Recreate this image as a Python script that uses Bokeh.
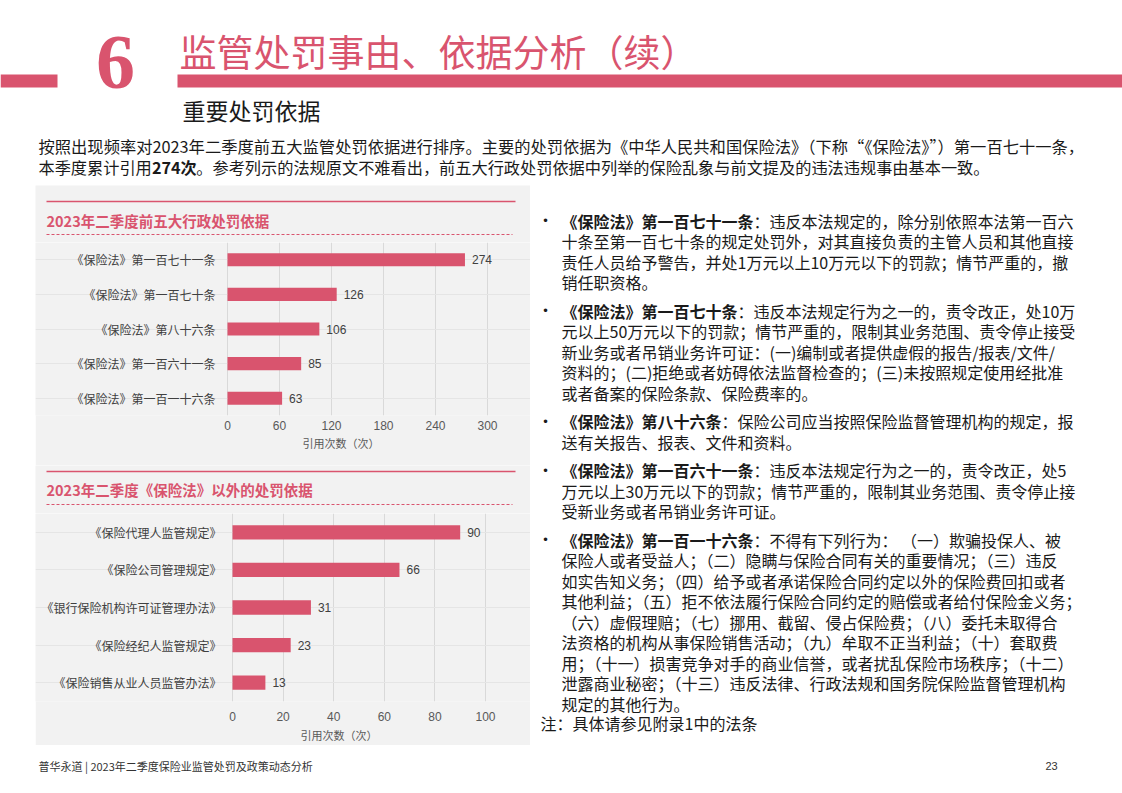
from bokeh.plotting import figure
from bokeh.models import Range1d, FactorRange, FixedTicker, ColumnDataSource, Spacer, Title
from bokeh.layouts import column, row
from bokeh.embed import file_html
from bokeh.resources import INLINE
from bokeh.core.properties import value

# ---------------- data ----------------
cats1 = ["《保险法》第一百七十一条", "《保险法》第一百七十条", "《保险法》第八十六条",
         "《保险法》第一百六十一条", "《保险法》第一百一十六条"]
vals1 = [274, 126, 106, 85, 63]
ticks1 = [0, 60, 120, 180, 240, 300]

cats2 = ["《保险代理人监管规定》", "《保险公司管理规定》", "《银行保险机构许可证管理办法》",
         "《保险经纪人监管规定》", "《保险销售从业人员监管办法》"]
vals2 = [90, 66, 31, 23, 13]
ticks2 = [0, 20, 40, 60, 80, 100]

title1 = "2023年二季度前五大行政处罚依据"
title2 = "2023年二季度《保险法》以外的处罚依据"
axis_title = "引用次数（次）"

page_number = "6"
page_title = "监管处罚事由、依据分析（续）"
sub_title = "重要处罚依据"
intro1 = "按照出现频率对2023年二季度前五大监管处罚依据进行排序。主要的处罚依据为《中华人民共和国保险法》（下称“《保险法》”）第一百七十一条，"
intro2 = [("本季度累计引用", False), ("274次", True),
          ("。参考列示的法规原文不难看出，前五大行政处罚依据中列举的保险乱象与前文提及的违法违规事由基本一致。", False)]

bullets = [
    ("《保险法》第一百七十一条", ["：违反本法规定的，除分别依照本法第一百六",
                        "十条至第一百七十条的规定处罚外，对其直接负责的主管人员和其他直接",
                        "责任人员给予警告，并处1万元以上10万元以下的罚款；情节严重的，撤",
                        "销任职资格。"]),
    ("《保险法》第一百七十条", ["：违反本法规定行为之一的，责令改正，处10万",
                       "元以上50万元以下的罚款；情节严重的，限制其业务范围、责令停止接受",
                       "新业务或者吊销业务许可证：(一)编制或者提供虚假的报告/报表/文件/",
                       "资料的；(二)拒绝或者妨碍依法监督检查的；(三)未按照规定使用经批准",
                       "或者备案的保险条款、保险费率的。"]),
    ("《保险法》第八十六条", ["：保险公司应当按照保险监督管理机构的规定，报",
                      "送有关报告、报表、文件和资料。"]),
    ("《保险法》第一百六十一条", ["：违反本法规定行为之一的，责令改正，处5",
                        "万元以上30万元以下的罚款；情节严重的，限制其业务范围、责令停止接",
                        "受新业务或者吊销业务许可证。"]),
    ("《保险法》第一百一十六条", ["：不得有下列行为：  （一）欺骗投保人、被",
                        "保险人或者受益人；（二）隐瞒与保险合同有关的重要情况；（三）违反",
                        "如实告知义务；（四）给予或者承诺保险合同约定以外的保险费回扣或者",
                        "其他利益；（五）拒不依法履行保险合同约定的赔偿或者给付保险金义务；",
                        "（六）虚假理赔；（七）挪用、截留、侵占保险费；（八）委托未取得合",
                        "法资格的机构从事保险销售活动；（九）牟取不正当利益；（十）套取费",
                        "用；（十一）损害竞争对手的商业信誉，或者扰乱保险市场秩序；（十二）",
                        "泄露商业秘密；（十三）违反法律、行政法规和国务院保险监督管理机构",
                        "规定的其他行为。"]),
]
note = "注：具体请参见附录1中的法条"
footer_text = "普华永道 | 2023年二季度保险业监管处罚及政策动态分析"
footer_page = "23"

# ---------------- style ----------------
RED = "#d9546e"
GRAY = "#f2f2f2"
CJK = "Noto Sans CJK SC"
LAT = "Liberation Sans"
INK = "#1a1a1a"
PANEL_W = 495


def em_width(s, bold=False):
    w = 0.0
    for c in s:
        if c.isdigit():
            w += 0.58 if bold else 0.555
        elif c in "()/":
            w += 0.33
        elif c == " ":
            w += 0.25
        elif ord(c) < 128:
            w += 0.55
        else:
            w += 1.0
    return w


def canvas(x0, x1, y0, y1, bg="white"):
    p = figure(width=int(round(x1 - x0)), height=int(round(y1 - y0)),
               x_range=Range1d(x0, x1), y_range=Range1d(y1, y0),
               output_backend="svg", toolbar_location=None,
               x_axis_location=None, y_axis_location=None, min_border=0)
    p.grid.visible = False
    p.outline_line_color = None
    p.background_fill_color = bg
    p.border_fill_color = bg
    return p


def txt(p, x, y, s, size, color=INK, bold=False, font=CJK, align="left", baseline="middle"):
    p.text(x=[x], y=[y], text=[s], text_font=value(font), text_font_size=f"{size}px",
           text_color=color, text_font_style="bold" if bold else "normal",
           text_align=align, text_baseline=baseline)


def runs(p, x, y, parts, size, color=INK):
    for s, b in parts:
        txt(p, x, y, s, size, color=color, bold=b)
        x += em_width(s, b) * size


# ---------------- header ----------------
header = canvas(0, 1122, 0, 185)
header.quad(left=[0], right=[57], top=[74], bottom=[87], color=RED, line_color=None)
header.quad(left=[177], right=[1122], top=[74], bottom=[87], color=RED, line_color=None)
txt(header, 115, 62, page_number, 78, color=RED, bold=True, font="Liberation Serif",
    align="center", baseline="middle")
txt(header, 179, 50, page_title, 37, color=RED)
txt(header, 182, 109, sub_title, 23, color=INK)
txt(header, 38, 145, intro1, 16.3)
runs(header, 38, 166, intro2, 16.2)


# ---------------- chart titles ----------------
def title_fig(y0, y1, ysolid, ytext, ydash, s):
    p = canvas(35, 35 + PANEL_W, y0, y1, bg=GRAY)
    p.segment(x0=[46], x1=[515], y0=[ysolid], y1=[ysolid], line_color=RED, line_width=1.5)
    p.segment(x0=[46], x1=[512], y0=[ydash], y1=[ydash], line_color=RED, line_width=1,
              line_dash="3 2")
    txt(p, 46, ytext, s, 14.5, color=RED, bold=True)
    return p


t1 = title_fig(185, 242, 201, 219.5, 234, title1)
t2 = title_fig(465, 513, 471, 489, 504, title2)


# ---------------- bar charts ----------------
def bar_chart(cats, vals, ticks, zero_px, px_per_unit, height, bb, tick_standoff,
              cat_offset, label_left_px, label_standoff):
    xr = Range1d(-zero_px / px_per_unit, (PANEL_W - zero_px) / px_per_unit)
    p = figure(width=PANEL_W, height=height, y_range=FactorRange(factors=cats[::-1]),
               x_range=xr, output_backend="svg", toolbar_location=None,
               y_axis_location=None,
               min_border_left=0, min_border_right=0, min_border_top=0, min_border_bottom=bb)
    src = ColumnDataSource(dict(cat=cats, val=vals, lab=[str(v) for v in vals]))
    p.hbar(y="cat", left=0, right="val", height=0.38, source=src,
           fill_color=RED, line_color=None)
    p.text(x="val", y="cat", text="lab", source=src, x_offset=7, text_baseline="middle",
           text_font=value(LAT), text_font_size="12px", text_color="#404040")
    p.text(x=0, y="cat", text="cat", source=src, x_offset=cat_offset, text_align="right",
           text_baseline="middle", text_font=value(CJK), text_font_size="12px",
           text_color="#404040")
    p.background_fill_color = GRAY
    p.border_fill_color = GRAY
    p.outline_line_color = None
    p.xaxis.ticker = FixedTicker(ticks=ticks)
    p.xgrid.ticker = FixedTicker(ticks=ticks)
    p.xgrid.grid_line_color = "#d9d9d9"
    ax = p.xaxis[0]
    ax.axis_line_color = None
    ax.major_tick_line_color = None
    ax.minor_tick_line_color = None
    ax.major_tick_out = 0
    ax.major_tick_in = 0
    ax.major_label_text_font = LAT
    ax.major_label_text_font_size = "12px"
    ax.major_label_text_color = "#595959"
    ax.major_label_standoff = tick_standoff
    # axis title, placed below the axis like the original
    p.add_layout(Title(text=axis_title, align="left", offset=label_left_px,
                       standoff=label_standoff, text_font=CJK, text_font_size="11px",
                       text_font_style="normal", text_color="#595959"), "below")
    return p


c1 = bar_chart(cats1, vals1, ticks1, 192, 260 / 300, 223, 50, 5, -12, 267, 1)
c2 = bar_chart(cats2, vals2, ticks2, 197, 253 / 100, 232, 44, 10, -11, 265, 2)

left = column(t1, c1, t2, c2, spacing=0)

# ---------------- right text ----------------
rt = canvas(530, 1122, 185, 745)
FS = 16
PITCH = 20.5
GAP = 8
y = 220
for bold_head, lines in bullets:
    txt(rt, 545, y, "•", 13, font=LAT, align="center")
    runs(rt, 561, y, [(bold_head, True), (lines[0], False)], FS)
    for ln in lines[1:]:
        y += PITCH
        txt(rt, 561, y, ln, FS)
    y += PITCH + GAP
txt(rt, 540, 722, note, FS)

middle = row(Spacer(width=35, height=560), left, rt, spacing=0)

# ---------------- footer ----------------
foot = canvas(0, 1122, 745, 790)
txt(foot, 38, 765, footer_text, 11, color="#333333")
txt(foot, 1045, 765, footer_page, 11, color="#333333", font=LAT)

page = column(header, middle, foot, spacing=0)

open("out.html", "w").write(file_html(page, INLINE))
